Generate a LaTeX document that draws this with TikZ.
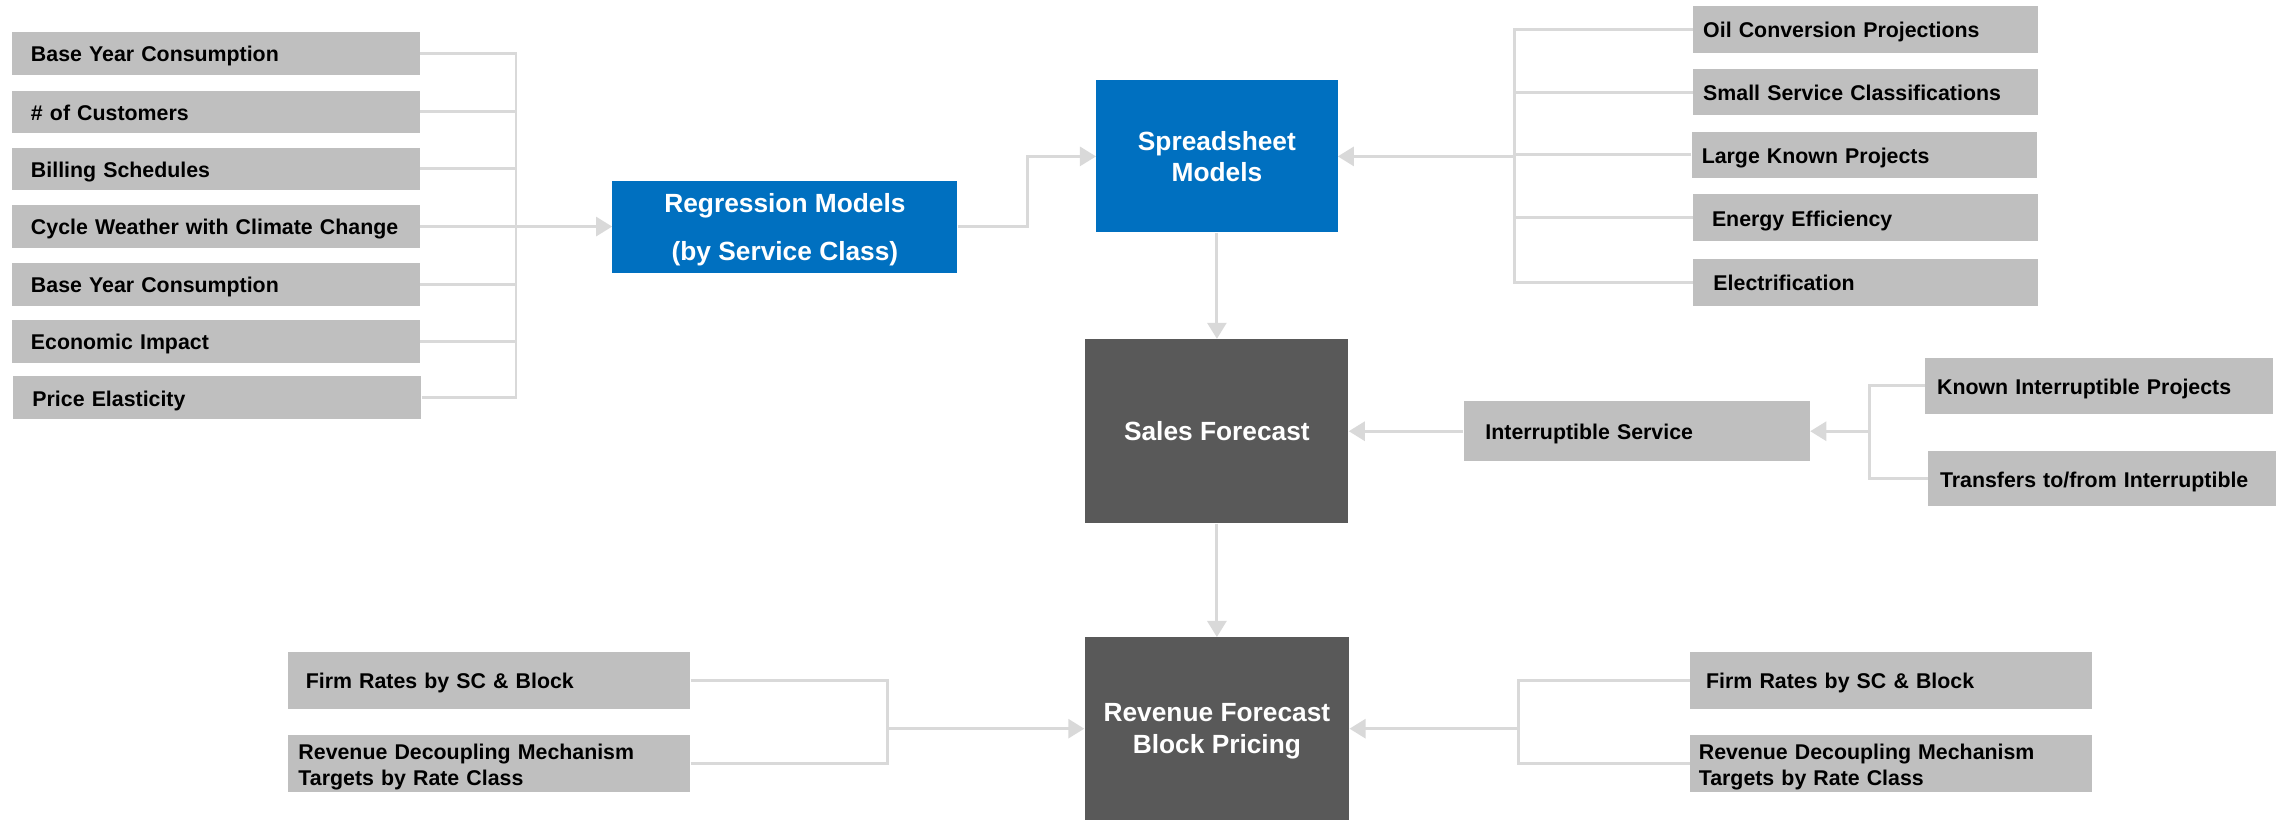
\documentclass[tikz,border=0pt]{standalone}
\usepackage{fontspec}
\setmainfont{Liberation Sans}
\usetikzlibrary{arrows.meta}
\definecolor{boxgray}{HTML}{BFBFBF}
\definecolor{modelblue}{HTML}{0070C0}
\definecolor{forecastgray}{HTML}{595959}
\definecolor{linkgray}{HTML}{D9D9D9}
\newcommand{\factorfont}{\fontsize{14.6}{17.5}\selectfont\bfseries}
\newcommand{\modelfont}{\fontsize{18}{21.8}\selectfont\bfseries}

\begin{document}
\begin{tikzpicture}[x=1pt, y=-1pt,
        factor/.style={fill=boxgray, anchor=west, align=left, font=\factorfont, inner ysep=0pt,
            text height=11.5pt, text depth=0pt},
        leftin/.style={factor, minimum height=29pt, text width=253pt, inner xsep=13pt},
        rightin/.style={factor, minimum height=32pt, text width=222pt, inner xsep=7pt},
        intin/.style={factor, minimum height=38pt, text width=222pt, inner xsep=8pt},
        rate/.style={factor, minimum height=39pt, text width=261pt, inner xsep=7pt},
        tworate/.style={rate, text depth=17pt},
        model/.style={fill=modelblue, text=white, font=\modelfont, align=center, inner sep=0pt,
            text depth=0pt},
        forecast/.style={model, fill=forecastgray},
        link/.style={draw=linkgray, line width=2pt},
        feed/.style={link, -{Triangle[length=11pt, width=13pt]}}]
            \useasboundingbox (0, 0) rectangle (1568, 561.7);

            \node [leftin] (base) at (8, 36.5) {Base Year Consumption};
            \node [leftin] (cust) at (8, 76.5) {\# of Customers};
            \node [leftin] (bill) at (8, 115.5) {Billing Schedules};
            \node [leftin] (wthr) at (8, 155) {Cycle Weather with Climate Change};
            \node [leftin] (base2) at (8, 194.5) {Base Year Consumption};
            \node [leftin] (econ) at (8, 233.5) {Economic Impact};
            \node [leftin] (price) at (9, 272) {Price Elasticity};

            \node [model, minimum width=236pt, minimum height=63pt] (reg) at (537, 155)
                {Regression Models\\[11pt](by Service Class)};
            \node [model, minimum width=165pt, minimum height=104pt] (spread) at (832.5, 107)
                {Spreadsheet\\Models};
            \node [forecast, minimum width=180pt, minimum height=126pt] (sales) at (832.5, 295)
                {Sales Forecast};
            \node [forecast, minimum width=181pt, minimum height=125pt] (rev) at (832.5, 498.5)
                {Revenue Forecast\\Block Pricing};

            \node [rightin] (oil) at (1158, 20) {Oil Conversion Projections};
            \node [rightin] (small) at (1158, 63) {Small Service Classifications};
            \node [rightin] (large) at (1157, 106) {Large Known Projects};
            \node [rightin, inner xsep=13pt, text width=210pt] (eff) at (1158, 149) {Energy Efficiency};
            \node [rightin, inner xsep=14pt, text width=208pt] (elec) at (1158, 193) {Electrification};

            \node [factor, minimum height=41pt, text width=207pt, inner xsep=15pt] (intr) at (1001, 295)
                {Interruptible Service};
            \node [intin] (known) at (1317, 264) {Known Interruptible Projects};
            \node [intin] (trans) at (1319, 327.5) {Transfers to/from Interruptible};

            \node [rate, inner xsep=12pt, text width=251pt] (firml) at (197, 465.5) {Firm Rates by SC \& Block};
            \node [tworate] (decoupl) at (197, 522.5) {Revenue Decoupling Mechanism\\Targets by Rate Class};
            \node [rate, inner xsep=11pt, text width=253pt] (firmr) at (1156, 465.5) {Firm Rates by SC \& Block};
            \node [tworate, inner xsep=6pt, text width=263pt] (decoupr) at (1156, 522.5) {Revenue Decoupling Mechanism\\Targets by Rate Class};

            \coordinate (lbus) at (353, 155);
            \coordinate (rbus) at (1036, 107);
            \coordinate (ibus) at (1279, 295);
            \coordinate (blbus) at (607, 498.5);
            \coordinate (brbus) at (1039, 498.5);

            \draw [link] (base.east) -| (lbus);
            \draw [link] (cust.east) -| (lbus);
            \draw [link] (bill.east) -| (lbus);
            \draw [link] (wthr.east) -| (lbus);
            \draw [link] (base2.east) -| (lbus);
            \draw [link] (econ.east) -| (lbus);
            \draw [link] (price.east) -| (lbus);
            \draw [feed] (lbus) -- (reg.west);

            \draw [feed] (reg.east) -- ++(48, 0) |- (spread.west);

            \draw [link] (oil.west) -| (rbus);
            \draw [link] (small.west) -| (rbus);
            \draw [link] (large.west) -| (rbus);
            \draw [link] (eff.west) -| (rbus);
            \draw [link] (elec.west) -| (rbus);
            \draw [feed] (rbus) -- (spread.east);

            \draw [feed] (spread.south) -- (sales.north);

            \draw [link] (known.west) -| (ibus);
            \draw [link] (trans.west) -| (ibus);
            \draw [feed] (ibus) -- (intr.east);
            \draw [feed] (intr.west) -- (sales.east);

            \draw [feed] (sales.south) -- (rev.north);

            \draw [link] (firml.east) -| (blbus);
            \draw [link] (decoupl.east) -| (blbus);
            \draw [feed] (blbus) -- (rev.west);

            \draw [link] (firmr.west) -| (brbus);
            \draw [link] (decoupr.west) -| (brbus);
            \draw [feed] (brbus) -- (rev.east);
        \end{tikzpicture}
\end{document}
